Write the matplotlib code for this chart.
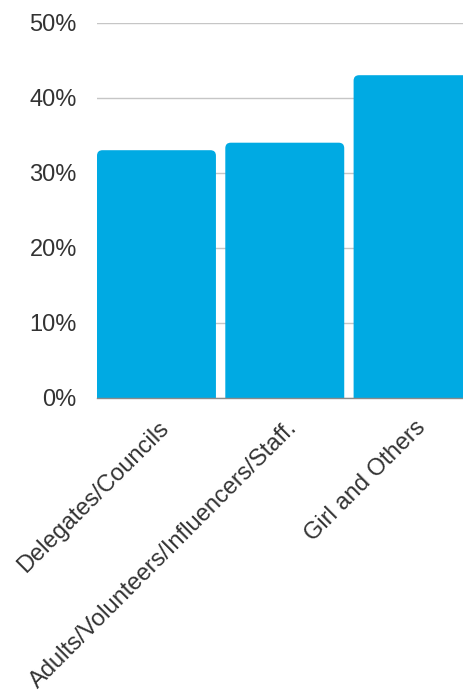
import matplotlib
matplotlib.use("Agg")
import matplotlib.pyplot as plt
from matplotlib.patches import FancyBboxPatch
from matplotlib.ticker import FixedLocator, FuncFormatter
import matplotlib.transforms as mtransforms

categories = ["Delegates/Councils", "Adults/Volunteers/Influencers/Staff.", "Girl and Others"]
values = [33, 34, 43]
yticks = [0, 10, 20, 30, 40, 50]

plt.rcParams['font.family'] = ['Liberation Sans', 'DejaVu Sans']

W, H = 464, 696
fig = plt.figure(figsize=(W / 100, H / 100), dpi=100)
ax_left = 97 / W
ax_bottom = (H - 397.7) / H
ax_top = (H - 22.7) / H
ax = fig.add_axes([ax_left, ax_bottom, 1.0 - ax_left, ax_top - ax_bottom])

bar_w = 0.927
xs = list(range(len(categories)))
bars = ax.bar(xs, values, width=bar_w, color='#00aae3', zorder=3)

x0 = -bar_w / 2
x1 = x0 + (W - 97) / 128.3
ax.set_xlim(x0, x1)
ax.set_ylim(0, 50)

# rounded top corners
px_per_x = 128.3
px_per_y = (397.7 - 22.7) / 50
radius_px = 5.5
for r in bars:
    bx, bw, bh = r.get_x(), r.get_width(), r.get_height()
    r.set_visible(False)
    rs = radius_px / px_per_x
    ext = 2 * radius_px / px_per_y
    p = FancyBboxPatch((bx, -ext), bw, bh + ext,
                       boxstyle=f"round,pad=0,rounding_size={rs}",
                       mutation_aspect=px_per_x / px_per_y,
                       facecolor='#00aae3', edgecolor='none', zorder=3)
    ax.add_patch(p)

ax.yaxis.set_major_locator(FixedLocator(yticks))
ax.yaxis.set_major_formatter(FuncFormatter(lambda v, p: f"{int(v)}%"))
ax.grid(axis='y', color='#c6c6c6', linewidth=1.0, zorder=0)
ax.set_axisbelow(True)
for s in ['top', 'right', 'left']:
    ax.spines[s].set_visible(False)
ax.spines['bottom'].set_color('#8a8a8a')
ax.spines['bottom'].set_linewidth(1.0)
ax.spines['bottom'].set_zorder(4)
ax.tick_params(axis='y', length=0, pad=14.5, labelsize=17, labelcolor='#333333')
ax.tick_params(axis='x', length=0)
ax.set_xticks(xs)
ax.set_xticklabels([])

offset = mtransforms.ScaledTranslation(9 / 100, -27 / 100, fig.dpi_scale_trans)
for x, lab in zip(xs, categories):
    ax.text(x, 0, lab, rotation=45, ha='right', va='center', rotation_mode='anchor',
            fontsize=17, color='#333333',
            transform=ax.transData + offset, clip_on=False)

fig.savefig("out.png", dpi=100)
